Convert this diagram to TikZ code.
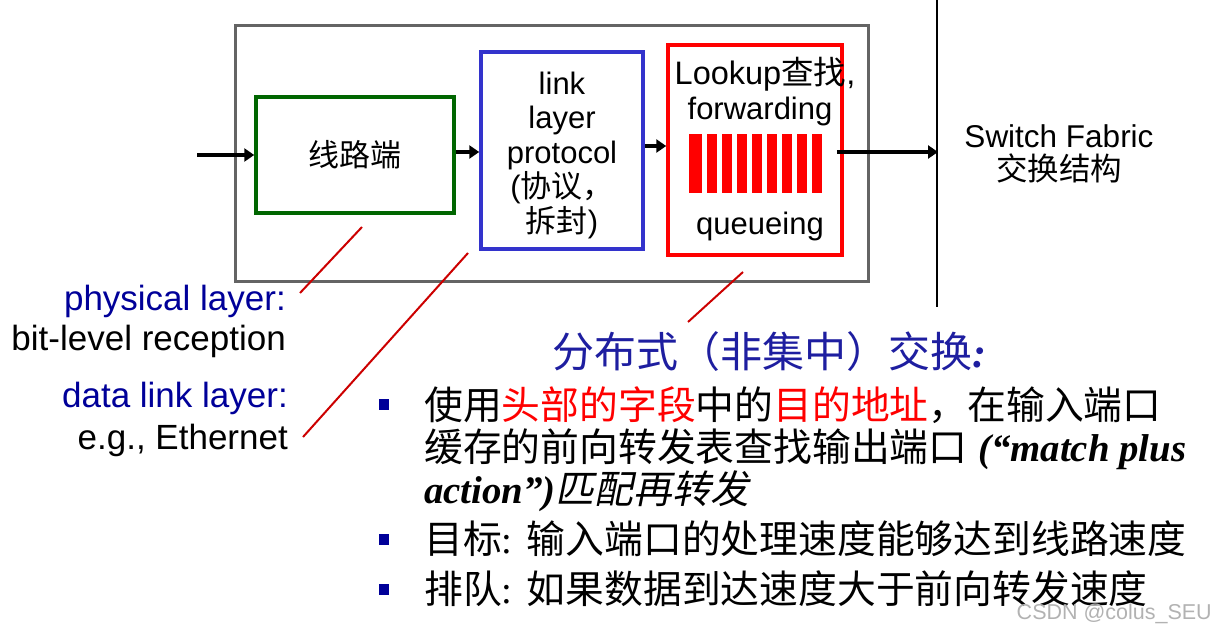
\documentclass[tikz,border=0pt]{standalone}
\usepackage{fontspec}
\setmainfont{Liberation Sans}
\newfontfamily\cjk{Noto Sans CJK SC}
\newfontfamily\cjkit[FakeSlant=0.2]{Noto Sans CJK SC}
\newfontfamily\timesfont{Liberation Serif}
\usetikzlibrary{arrows.meta}
\usetikzlibrary{calc}
\definecolor{navyblue}{RGB}{0,0,153}
\definecolor{titleblue}{RGB}{30,30,160}
\definecolor{leaderred}{RGB}{204,0,0}
\definecolor{boxgreen}{RGB}{0,102,0}
\definecolor{boxblue}{RGB}{51,51,204}
\definecolor{framegray}{RGB}{100,100,100}

\begin{document}
\begin{tikzpicture}[x=1pt, y=-1pt,
        frame_style/.style={draw=framegray, line width=3pt, inner sep=0pt},
        boxtext_style/.style={inner sep=0pt, align=center, font=\fontsize{31}{34.5}\selectfont},
        box_style/.style={boxtext_style, line width=3.5pt},
        label_style/.style={anchor=east, inner sep=0pt, font=\fontsize{35}{40}\selectfont},
        text_style/.style={anchor=base west, inner sep=0pt, font=\fontsize{38.8}{42}\selectfont},
        title_style/.style={anchor=base west, inner sep=0pt, text=titleblue, font=\fontsize{42}{45}\selectfont},
        edge_style/.style={draw=black, line width=3.5pt, -{Triangle[length=10pt,width=13pt]}},
        leader_style/.style={draw=leaderred, line width=2pt},
        bullet_style/.style={fill=navyblue, minimum width=10pt, minimum height=11pt, inner sep=0pt}]

        \useasboundingbox (0,0) rectangle (1215,634);

        \node [frame_style, minimum width=633pt, minimum height=255pt] (frame) at (551.5,153.5) {};

        \node [box_style, draw=boxgreen, minimum width=198pt, minimum height=116pt] (line_end) at (355,155) {\cjk 线路端};

        \node [box_style, draw=boxblue, minimum width=162pt, minimum height=197pt] (link_box) at (562,150.5) {};

        \node [boxtext_style] (link_text) at (562,155) {link\\layer\\protocol\\({\cjk 协议，}\\{\cjk 拆封})};

        \node [box_style, draw=red, minimum width=174pt, minimum height=210pt] (fwd_box) at (755,150) {};

        \node [boxtext_style, font=\fontsize{32.5}{36}\selectfont] (lookup) at (765,74) {Lookup{\cjk 查找},};

        \node [boxtext_style] (forwarding) at (760,111) {forwarding};

        \node [boxtext_style] (queueing) at (760,226) {queueing};

        \fill [red] (689.3,134) rectangle ++(12.4,59.3);
        \foreach \i in {0,...,7}
            \fill [red] (707+15*\i,134) rectangle ++(9.7,59.3);

        \coordinate (in_pt) at (197,155);
        \coordinate (fabric_pt) at (938,152);
        \coordinate (fabric_top) at (937,0);
        \coordinate (fabric_bot) at (937,307);

        \draw [line width=2pt] (fabric_top) -- (fabric_bot);

        \draw [edge_style] (in_pt) -- (line_end.west);

        \draw [edge_style] ([yshift=3pt]line_end.east) -- ([yshift=3pt]line_end.east -| link_box.west);

        \draw [edge_style] ([yshift=4.5pt]link_box.east) -- ([yshift=4.5pt]link_box.east -| fwd_box.west);

        \draw [edge_style] ([xshift=-7pt,yshift=-2pt]fwd_box.east) -- (fabric_pt);

        \node [boxtext_style, font=\fontsize{31.5}{33}\selectfont] (fabric) at (1059,154) {Switch Fabric\\{\cjk 交换结构}};

        \node [label_style, text=navyblue] (phys) at (286,301) {physical layer:};
        \node [label_style] (phys_desc) at (286,341) {bit-level reception};
        \node [label_style, text=navyblue] (dll) at (288,398.5) {data link layer:};
        \node [label_style] (dll_desc) at (288,440) {e.g., Ethernet};

        \coordinate (phys_tip) at (300,293);
        \coordinate (phys_end) at (362,227);
        \coordinate (dll_tip) at (303,437);
        \coordinate (dll_end) at (468,253);
        \coordinate (fwd_tip) at (688,322);
        \coordinate (fwd_end) at (743,272);

        \draw [leader_style] (phys_tip) -- (phys_end);
        \draw [leader_style] (dll_tip) -- (dll_end);
        \draw [leader_style] (fwd_tip) -- (fwd_end);

        \node [title_style] (title) at (552,367) {{\cjk 分布式（非集中）交换}{\timesfont\bfseries\itshape :}};

        \foreach \y [count=\k] in {404,539,589}
            \node [bullet_style] (bullet\k) at (383.5,\y) {};

        \node [text_style] (item_a1) at (424,419.5) {\cjk 使用\textcolor{red}{头部的字段}中的\textcolor{red}{目的地址}，在输入端口};
        \node [text_style] (item_a2) at (424,461.5) {{\cjk 缓存的前向转发表查找输出端口} {\timesfont\bfseries\itshape (“match plus}};
        \node [text_style] (item_a3) at (424,503) {{\timesfont\bfseries\itshape action”)}{\cjkit 匹配再转发}};
        \node [text_style] (item_b) at (424,553.5) {{\cjk 目标}{\timesfont :} {\cjk 输入端口的处理速度能够达到线路速度}};
        \node [text_style] (item_c) at (424,603.5) {{\cjk 排队}{\timesfont :} {\cjk 如果数据到达速度大于前向转发速度}};

        \node [anchor=east, inner sep=0pt, text=black!30, font=\fontsize{21.5}{24}\selectfont] (mark) at (1212,614) {CSDN @colus\_SEU};

        \end{tikzpicture}
\end{document}
